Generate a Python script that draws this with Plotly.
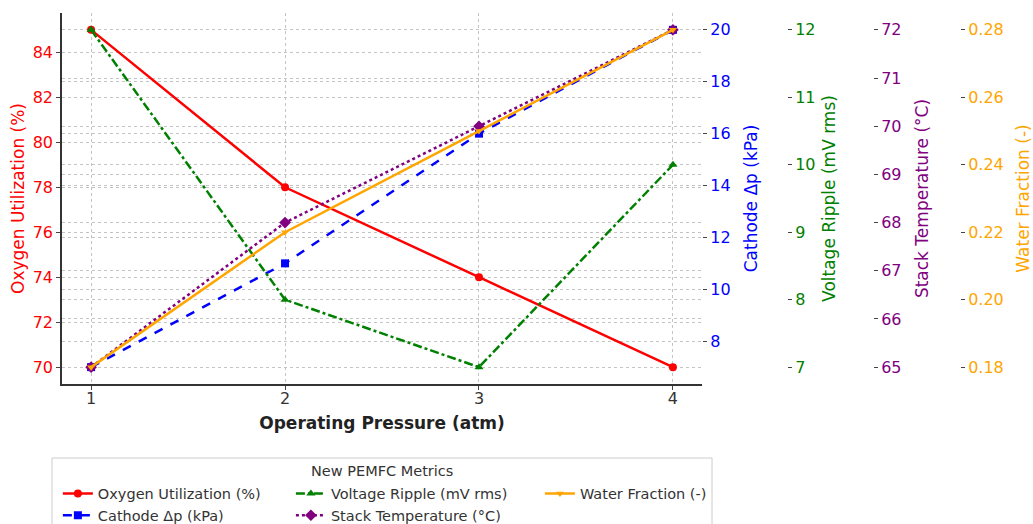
import plotly.graph_objects as go

pressure = [1, 2, 3, 4]
oxygen_util = [85, 78, 74, 70]
cathode_dp = [7, 11, 16, 20]
voltage_ripple = [12, 8, 7, 10]
stack_temp = [65, 68, 70, 72]
water_frac = [0.18, 0.22, 0.25, 0.28]

FONT = "DejaVu Sans"
GRID = "#c4c4c4"
TICKC = "#444444"
LEGFS = 14.5

fig = go.Figure()
fig.add_trace(go.Scatter(x=pressure, y=oxygen_util, name="Oxygen Utilization (%)", mode="lines+markers",
                         line=dict(color="red", width=2.5), marker=dict(symbol="circle", size=8, color="red"),
                         yaxis="y", legend="legend", legendgroup="a"))
fig.add_trace(go.Scatter(x=pressure, y=cathode_dp, name="Cathode Δp (kPa)", mode="lines+markers",
                         line=dict(color="blue", width=2.5, dash="dash"), marker=dict(symbol="square", size=8, color="blue"),
                         yaxis="y2", legend="legend", legendgroup="b"))
fig.add_trace(go.Scatter(x=pressure, y=voltage_ripple, name="Voltage Ripple (mV rms)", mode="lines+markers",
                         line=dict(color="green", width=2.5, dash="dashdot"), marker=dict(symbol="triangle-up", size=8, color="green"),
                         yaxis="y3", legend="legend2", legendgroup="c"))
fig.add_trace(go.Scatter(x=pressure, y=stack_temp, name="Stack Temperature (°C)", mode="lines+markers",
                         line=dict(color="purple", width=2.5, dash="dot"), marker=dict(symbol="diamond", size=9, color="purple"),
                         yaxis="y4", legend="legend2", legendgroup="d"))
fig.add_trace(go.Scatter(x=pressure, y=water_frac, name="Water Fraction (-)", mode="lines+markers",
                         line=dict(color="orange", width=2.5), marker=dict(symbol="triangle-down", size=7, color="orange"),
                         yaxis="y5", legend="legend3", legendgroup="e"))

def yax(color, title, rng, dtick, standoff=None, **kw):
    t = dict(text=title, font=dict(family=FONT, size=17, color=color))
    if standoff is not None:
        t["standoff"] = standoff
    d = dict(
        title=t,
        range=rng, dtick=dtick,
        tickfont=dict(family=FONT, size=16, color=color),
        ticks="outside", ticklen=4, tickcolor=TICKC,
        showgrid=True, gridcolor=GRID, griddash="dot", gridwidth=1,
        zeroline=False, automargin=False,
    )
    d.update(kw)
    return d

def leg(x):
    return dict(
        orientation="v", x=x, xanchor="left", y=-0.252, yanchor="top",
        font=dict(family=FONT, size=LEGFS, color="#333333"),
        bgcolor="rgba(0,0,0,0)", borderwidth=0,
        tracegroupgap=0,
    )

fig.update_layout(
    width=1033, height=524,
    template="plotly",
    paper_bgcolor="white", plot_bgcolor="white",
    margin=dict(l=62, r=10, t=13, b=140, autoexpand=False),
    font=dict(family=FONT, color="#333333"),
    xaxis=dict(
        domain=[0, 0.666],
        range=[0.85, 4.15], tickvals=pressure,
        title=dict(text="<b>Operating Pressure (atm)</b>", font=dict(family=FONT, size=17, color="#222222"), standoff=10),
        tickfont=dict(family=FONT, size=16, color="#333333"),
        ticks="outside", ticklen=4, tickcolor=TICKC, ticklabelstandoff=-5,
        showgrid=True, gridcolor=GRID, griddash="dot",
        showline=True, linecolor="#333333", linewidth=1.5,
        zeroline=False, automargin=False,
    ),
    yaxis=yax("red", "Oxygen Utilization (%)", [69.25, 85.75], 2, standoff=4,
              showline=True, linecolor="#333333", linewidth=1.5),
    yaxis2=yax("blue", "Cathode Δp (kPa)", [6.35, 20.65], 2,
               overlaying="y", side="right", anchor="x"),
    yaxis3=yax("green", "Voltage Ripple (mV rms)", [6.75, 12.25], 1, standoff=8,
               overlaying="y", side="right", anchor="free", position=0.7544),
    yaxis4=yax("purple", "Stack Temperature (°C)", [64.65, 72.35], 1,
               overlaying="y", side="right", anchor="free", position=0.8439),
    yaxis5=yax("orange", "Water Fraction (-)", [0.175, 0.285], 0.02,
               overlaying="y", side="right", anchor="free", position=0.9344, tickformat=".2f"),
    legend=leg(-0.0043),
    legend2=leg(0.2382),
    legend3=leg(0.4973),
    showlegend=True,
    shapes=[dict(type="rect", xref="paper", yref="paper", x0=-0.0104, x1=0.6764, y0=-0.40, y1=-0.1995,
                 line=dict(color="#cccccc", width=1), fillcolor="white", layer="below")],
    annotations=[dict(text="New PEMFC Metrics", xref="paper", yref="paper", x=0.333, y=-0.2345,
                      xanchor="center", yanchor="middle", showarrow=False,
                      font=dict(family=FONT, size=LEGFS, color="#333333"))],
)

fig.write_html("out.html", config={"displayModeBar": False},
               post_script="document.body.style.margin='0';")
